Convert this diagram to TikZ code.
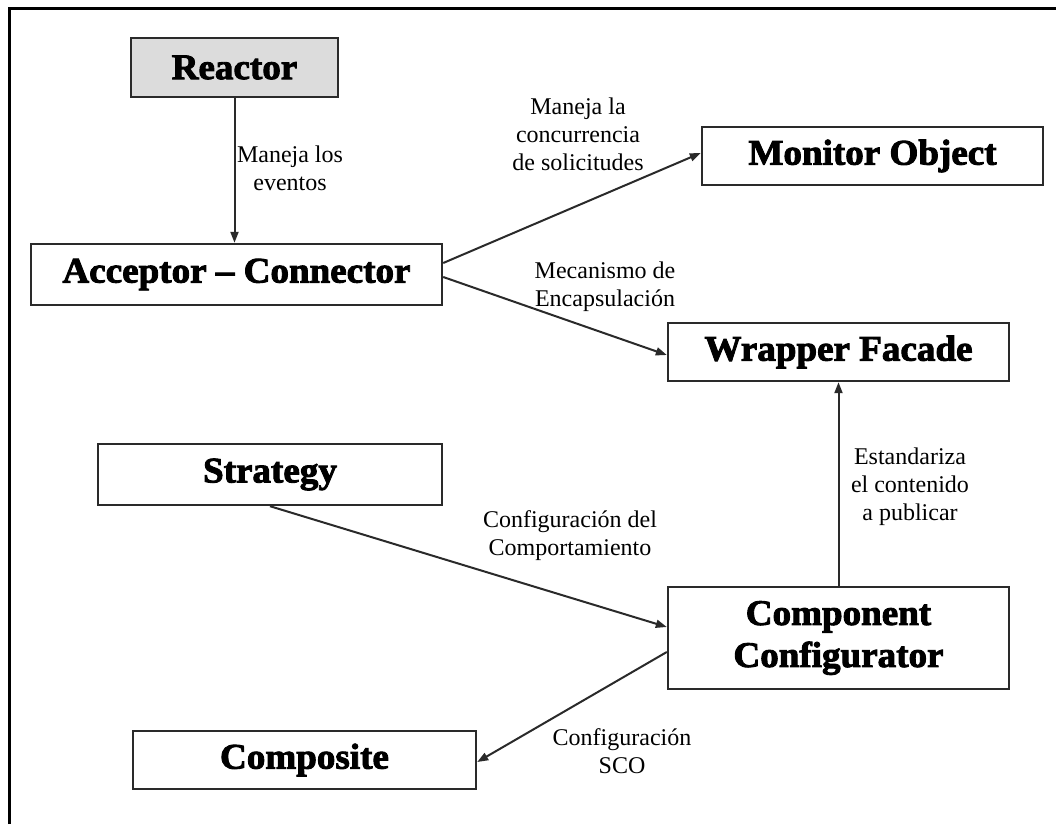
\documentclass[tikz,border=0pt]{standalone}
\usepackage{fontspec}
\setmainfont{Liberation Serif}
\newfontfamily\heavyfont{Liberation Serif Bold}[FakeBold=2.5, FakeStretch=1.03]
\usetikzlibrary{arrows.meta}

\definecolor{boxline}{HTML}{2A2A2A}
\definecolor{reactorfill}{HTML}{DCDCDC}

\tikzset{
  patternbox/.style={draw=boxline, line width=2.4pt, fill=white, inner sep=0pt,
    align=center, font=\heavyfont\fontsize{36}{42}\selectfont},
  edgelabel/.style={align=center, inner sep=0pt,
    font=\fontsize{24}{28}\selectfont},
  link/.style={draw=boxline, line width=2pt,
    -{Triangle[length=11pt,width=8pt]}},
}

\begin{document}
\begin{tikzpicture}[x=1pt, y=-1pt]
  \useasboundingbox (0,0) rectangle (1056,824);

  % outer frame (top and left sides only)
  \draw[line width=3pt] (9,824) -- (9,9) -- (1056,9);

  % pattern boxes
  \node[patternbox, fill=reactorfill, minimum width=207pt, minimum height=59pt]
    (reactor) at (234.5,67.5) {Reactor};
  \node[patternbox, minimum width=411pt, minimum height=61pt]
    (acceptor) at (236.5,274.5) {Acceptor – Connector};
  \node[patternbox, minimum width=341pt, minimum height=58pt]
    (monitor) at (872.5,156) {Monitor Object};
  \node[patternbox, minimum width=341pt, minimum height=58pt]
    (wrapper) at (838.5,352) {Wrapper Facade};
  \node[patternbox, minimum width=344pt, minimum height=61pt]
    (strategy) at (270,474.5) {Strategy};
  \node[patternbox, minimum width=341pt, minimum height=102pt]
    (configurator) at (838.5,638) {Component\\Configurator};
  \node[patternbox, minimum width=343pt, minimum height=58pt]
    (composite) at (304.5,760) {Composite};

  % connectors
  \draw[link] (reactor.south) -- (reactor.south |- acceptor.north);
  \draw[link] ([yshift=11.5pt]acceptor.east) -- ([yshift=3pt]monitor.west);
  \draw[link] ([yshift=-2.5pt]acceptor.east) -- ([yshift=-3pt]wrapper.west);
  \draw[link] (strategy.south) -- ([yshift=11pt]configurator.west);
  \draw[link] ([yshift=-14pt]configurator.west) -- ([yshift=-2pt]composite.east);
  \draw[link] (configurator.north) -- (configurator.north |- wrapper.south);

  % connector labels
  \node[edgelabel] (lblEventos) at (290,168) {Maneja los\\eventos};
  \node[edgelabel] (lblConcurrencia) at (578,134) {Maneja la\\concurrencia\\de solicitudes};
  \node[edgelabel] (lblEncapsulacion) at (605,287) {Mecanismo de\\Encapsulación};
  \node[edgelabel] (lblComportamiento) at (570,536) {Configuración del\\Comportamiento};
  \node[edgelabel] (lblEstandariza) at (910,487) {Estandariza\\el contenido\\a publicar};
  \node[edgelabel] (lblSCO) at (622,751) {Configuración\\SCO};
\end{tikzpicture}
\end{document}
